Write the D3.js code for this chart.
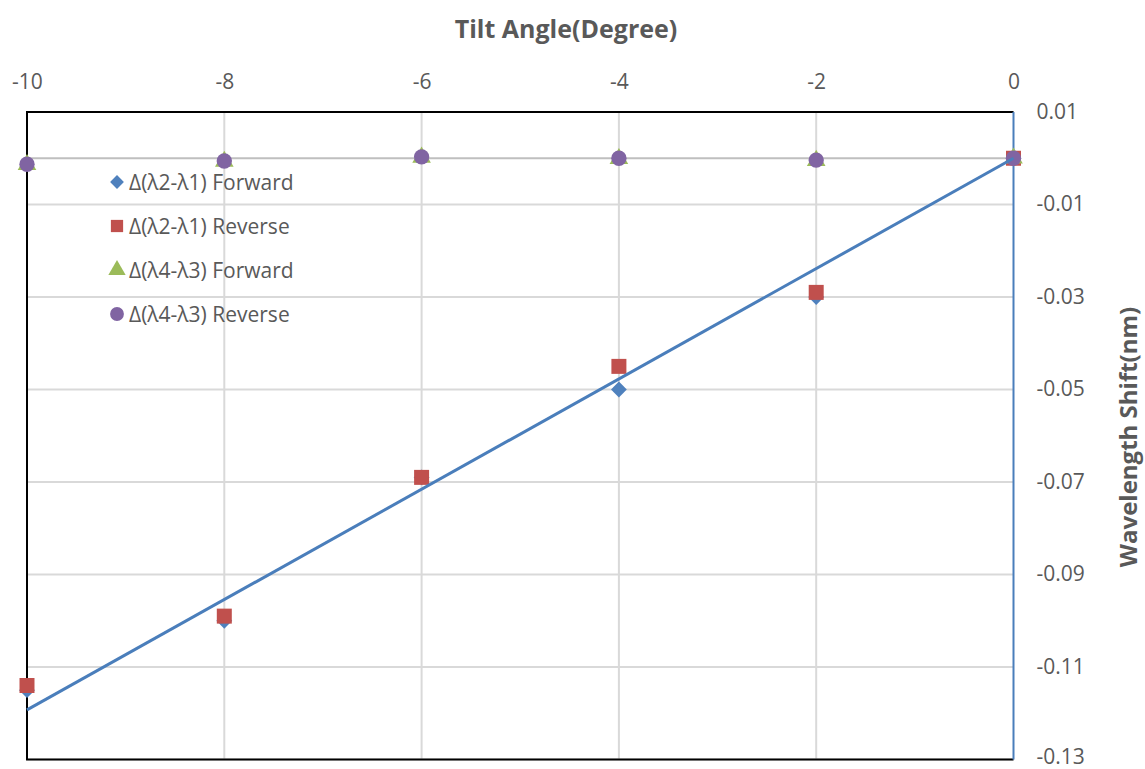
<!DOCTYPE html>
<html>
<head>
<meta charset="utf-8">
<script src="https://cdn.jsdelivr.net/npm/d3@7"></script>
<style>
  html, body { margin: 0; padding: 0; background: #ffffff; }
  svg { display: block; }
  text { font-family: "Open Sans", "DejaVu Sans", sans-serif; fill: #595959; }
</style>
</head>
<body>
<svg id="chart" width="1145" height="769"></svg>
<script>
// Tilt angle (degrees) at which each measurement was taken
const tiltAngles = [-10, -8, -6, -4, -2, 0];

// Wavelength shift (nm) per series
const fwd21 = [-0.115, -0.1, -0.069, -0.05, -0.03, 0];
const rev21 = [-0.114, -0.099, -0.069, -0.045, -0.029, 0];
const fwd43 = [-0.0014, -0.0007, 0.0002, -0.0001, -0.0005, 0];
const rev43 = [-0.0013, -0.0006, 0.0003, 0, -0.0004, 0];

const seriesNames = ["Δ(λ2-λ1) Forward", "Δ(λ2-λ1) Reverse", "Δ(λ4-λ3) Forward", "Δ(λ4-λ3) Reverse"];

// Axis ticks
const xTicks = [-10, -8, -6, -4, -2, 0];
const yTicks = [0.01, -0.01, -0.03, -0.05, -0.07, -0.09, -0.11, -0.13];

const svg = d3.select("#chart");

const plot = { left: 27, right: 1013.5, top: 112, bottom: 759.5 };

const x = d3.scaleLinear().domain([-10, 0]).range([plot.left, plot.right]);
const y = d3.scaleLinear().domain([-0.13, 0.01]).range([plot.bottom, plot.top]);

const colors = ["#4f81bd", "#c0504d", "#9bbb59", "#8064a2"];
// Diamonds are squares turned by 45 degrees
const symbols = [d3.symbolSquare, d3.symbolSquare, d3.symbolTriangle, d3.symbolCircle];
const rotations = [45, 0, 0, 0];
const markerArea = [125, 225, 150, 185];
const legendArea = [95, 150, 130, 150];

const hyphen = s => s.replace("\u2212", "-");

// Grid lines
const grid = svg.append("g");
grid.selectAll("line.h").data(yTicks).join("line")
  .attr("x1", plot.left).attr("x2", plot.right)
  .attr("y1", d => y(d)).attr("y2", d => y(d))
  .attr("stroke", "#d9d9d9").attr("stroke-width", 2);
grid.selectAll("line.v").data(xTicks.filter(d => d !== -10 && d !== 0)).join("line")
  .attr("y1", plot.top).attr("y2", plot.bottom)
  .attr("x1", d => x(d)).attr("x2", d => x(d))
  .attr("stroke", "#d9d9d9").attr("stroke-width", 2);

// Horizontal axis line at zero shift
svg.append("line")
  .attr("x1", plot.left).attr("x2", plot.right)
  .attr("y1", y(0)).attr("y2", y(0))
  .attr("stroke", "#bfbfbf").attr("stroke-width", 2);

// Plot frame (left, top, bottom)
svg.append("path")
  .attr("d", `M${plot.right},${plot.top}H${plot.left}V${plot.bottom}H${plot.right}`)
  .attr("fill", "none").attr("stroke", "#000").attr("stroke-width", 2);

// Vertical axis line at zero tilt
svg.append("line")
  .attr("x1", plot.right).attr("x2", plot.right)
  .attr("y1", plot.top).attr("y2", plot.bottom)
  .attr("stroke", "#4a7ebb").attr("stroke-width", 2);

// Tick labels via d3 axes with hidden domain/ticks
const xAxis = svg.append("g")
  .attr("transform", `translate(0,${plot.top - 20})`)
  .call(d3.axisTop(x).tickValues(xTicks).tickFormat(d => hyphen(d3.format("d")(d))).tickSize(0));
xAxis.select(".domain").remove();
xAxis.selectAll("text").style("font-size", "21px").attr("fill", "#595959");

const yAxis = svg.append("g")
  .attr("transform", `translate(${plot.right + 23},0)`)
  .call(d3.axisRight(y).tickValues(yTicks).tickFormat(d => hyphen(d3.format(".2f")(d))).tickSize(0));
yAxis.select(".domain").remove();
yAxis.selectAll("text").style("font-size", "21px").attr("fill", "#595959").attr("x", 0)
  .attr("dy", d => d === -0.13 ? "0.2em" : "0.3em");

// Axis titles
svg.append("text")
  .attr("x", 566).attr("y", 38)
  .attr("text-anchor", "middle")
  .style("font-size", "25px").style("font-weight", "bold")
  .text("Tilt Angle(Degree)");

svg.append("text")
  .attr("transform", `translate(1137,437) rotate(-90)`)
  .attr("text-anchor", "middle")
  .style("font-size", "24px").style("font-weight", "bold")
  .text("Wavelength Shift(nm)");

// Data markers
const allSeries = [fwd21, rev21, fwd43, rev43];
allSeries.forEach((vals, i) => {
  const sym = d3.symbol().type(symbols[i]).size(markerArea[i]);
  svg.append("g").selectAll("path").data(vals).join("path")
    .attr("d", sym)
    .attr("transform", (d, j) => `translate(${x(tiltAngles[j])},${y(d)}) rotate(${rotations[i]})`)
    .attr("fill", colors[i]);
});

// Linear trend of the forward Δ(λ2-λ1) series, fitted through the origin
const sxy = d3.sum(tiltAngles, (t, j) => t * fwd21[j]);
const sxx = d3.sum(tiltAngles, t => t * t);
const slope = sxy / sxx;
svg.append("line")
  .attr("x1", x(-10)).attr("y1", y(slope * -10))
  .attr("x2", x(0)).attr("y2", y(0))
  .attr("stroke", "#4a7ebb").attr("stroke-width", 3);

// Legend
const legend = svg.append("g");
seriesNames.forEach((name, i) => {
  const ly = 182 + i * 44;
  const sym = d3.symbol().type(symbols[i]).size(legendArea[i]);
  legend.append("path").attr("d", sym)
    .attr("transform", `translate(117,${ly}) rotate(${rotations[i]})`)
    .attr("fill", colors[i]);
  legend.append("text")
    .attr("x", 129).attr("y", ly).attr("dy", "0.36em")
    .style("font-size", "21px")
    .text(name);
});
</script>
</body>
</html>
